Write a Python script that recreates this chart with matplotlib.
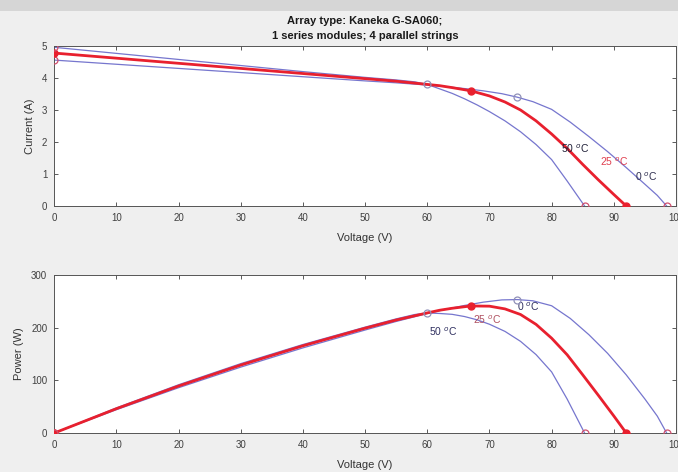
import matplotlib
matplotlib.use("Agg")
import matplotlib.pyplot as plt
from matplotlib.patches import Rectangle

plt.rcParams['font.family'] = ['Liberation Sans', 'DejaVu Sans']

# ---- data ----
temps = ["0", "25", "50"]

v_0 = [0, 10, 20, 30, 40, 50, 55, 60, 63, 66, 69, 72, 74.5, 77, 80, 83, 86, 89, 92, 95, 97, 98.5]
i_0 = [4.56, 4.43, 4.30, 4.17, 4.04, 3.91, 3.85, 3.78, 3.73, 3.67, 3.60, 3.51, 3.40, 3.26,
       3.02, 2.62, 2.17, 1.70, 1.20, 0.68, 0.33, 0]
p_0 = [0, 44.3, 86.0, 125.1, 161.6, 195.5, 211.8, 226.8, 235.0, 242.2, 248.4, 252.7, 253.3,
       251.0, 241.6, 217.5, 186.6, 151.3, 110.4, 64.6, 32.0, 0]

v_25 = [0, 10, 20, 30, 40, 50, 55, 60, 62, 64, 67, 70, 72.5, 75, 77.5, 80, 82.5, 85, 87.5, 90, 92]
i_25 = [4.78, 4.62, 4.46, 4.30, 4.14, 3.98, 3.90, 3.80, 3.76, 3.70, 3.60, 3.44, 3.25, 3.00,
        2.66, 2.25, 1.80, 1.30, 0.82, 0.36, 0]
p_25 = [0, 46.2, 89.2, 129.0, 165.6, 199.0, 214.5, 228.0, 233.1, 236.8, 241.2, 240.8, 235.6,
        225.0, 206.2, 180.0, 148.5, 110.5, 71.8, 32.4, 0]

v_50 = [0, 10, 20, 30, 40, 50, 55, 58, 60, 62, 64, 66, 68, 70, 72.5, 75, 77.5, 80, 82.5, 85.3]
i_50 = [4.96, 4.77, 4.58, 4.39, 4.20, 4.02, 3.94, 3.88, 3.80, 3.66, 3.52, 3.35, 3.16, 2.95,
        2.66, 2.32, 1.92, 1.45, 0.78, 0]
p_50 = [0, 47.7, 91.6, 131.7, 168.0, 201.0, 216.7, 225.0, 228.0, 226.9, 225.3, 221.1, 214.9,
        206.5, 192.9, 174.0, 148.8, 116.0, 64.4, 0]

# key points: Isc (V=0), maximum power point, Voc
mpp_v = {"0": 74.5, "25": 67, "50": 60}
mpp_i = {"0": 3.40, "25": 3.60, "50": 3.80}
mpp_p = {"0": 253.3, "25": 241.2, "50": 228.0}
isc = {"0": 4.56, "25": 4.78, "50": 4.96}
voc = {"0": 98.5, "25": 92, "50": 85.3}

x_ticks = [0, 10, 20, 30, 40, 50, 60, 70, 80, 90, 100]
i_ticks = [0, 1, 2, 3, 4, 5]
p_ticks = [0, 100, 200, 300]

title = "Array type: Kaneka G-SA060;\n1 series modules; 4 parallel strings"

curves = {
    "0": (v_0, i_0, p_0),
    "25": (v_25, i_25, p_25),
    "50": (v_50, i_50, p_50),
}

# ---- style ----
BLUE = "#7676ce"
RED = "#e8202e"
MK = "#d0506e"

fig = plt.figure(figsize=(6.78, 4.72), dpi=100, facecolor="#efefef")
fig.add_artist(Rectangle((0, 0.976), 1, 0.024, transform=fig.transFigure,
                         facecolor="#d6d6d6", edgecolor="none", zorder=-1))

ax1 = fig.add_axes([0.080, 0.5636, 0.917, 0.3389])
ax2 = fig.add_axes([0.080, 0.0826, 0.917, 0.3348])


def style(ax, yticks, ylim):
    ax.set_facecolor("white")
    ax.set_xlim(0, 100)
    ax.set_ylim(*ylim)
    ax.set_xticks(x_ticks)
    ax.set_yticks(yticks)
    ax.tick_params(direction="in", top=True, right=True, length=3,
                   width=0.6, labelsize=7, colors="#404040", pad=5)
    for s in ax.spines.values():
        s.set_color("#555555")
        s.set_linewidth(0.7)
    ax.set_xlabel("Voltage (V)", fontsize=8, color="#333333", labelpad=7)


for t in temps:
    v, i, p = curves[t]
    col = RED if t == "25" else BLUE
    lw = 2.0 if t == "25" else 0.9
    z = 3 if t == "25" else 2
    ax1.plot(v, i, color=col, lw=lw, zorder=z)
    ax2.plot(v, p, color=col, lw=lw, zorder=z)
    if t == "25":
        kw = dict(marker="o", ms=5, mfc=RED, mec=RED, ls="none", zorder=4)
        ax1.plot([0, mpp_v[t], voc[t]], [isc[t], mpp_i[t], 0], **kw)
        ax2.plot([0, mpp_v[t], voc[t]], [0, mpp_p[t], 0], **kw)
    else:
        kw = dict(marker="o", ms=5, mfc="none", mec=MK, mew=0.9, ls="none", zorder=4)
        ax1.plot([0, voc[t]], [isc[t], 0], **kw)
        ax2.plot([0, voc[t]], [0, 0], **kw)
        kw2 = dict(marker="o", ms=5, mfc="none", mec="#9090b8", mew=0.9, ls="none", zorder=4)
        ax1.plot([mpp_v[t]], [mpp_i[t]], **kw2)
        ax2.plot([mpp_v[t]], [mpp_p[t]], **kw2)

style(ax1, i_ticks, (0, 5))
style(ax2, p_ticks, (0, 300))
ax1.set_ylabel("Current (A)", fontsize=8, color="#333333", labelpad=5)
ax2.set_ylabel("Power (W)", fontsize=8, color="#333333", labelpad=5)
ax1.set_title(title, fontsize=8, fontweight="bold", color="#1a1a1a",
              pad=5, linespacing=1.6)

# temperature labels
ax1.text(81.5, 1.80, "50 $^o$C", fontsize=7.5, color="#202038", va="center")
ax1.text(87.8, 1.38, "25 $^o$C", fontsize=7.5, color="#e04050", va="center")
ax1.text(93.4, 0.92, "0 $^o$C", fontsize=7.5, color="#303050", va="center")
ax2.text(74.4, 239, "0 $^o$C", fontsize=7.5, color="#303060", va="center")
ax2.text(67.4, 214, "25 $^o$C", fontsize=7.5, color="#b05060", va="center")
ax2.text(60.3, 192, "50 $^o$C", fontsize=7.5, color="#303060", va="center")

fig.savefig("out.png", dpi=100, facecolor=fig.get_facecolor())
